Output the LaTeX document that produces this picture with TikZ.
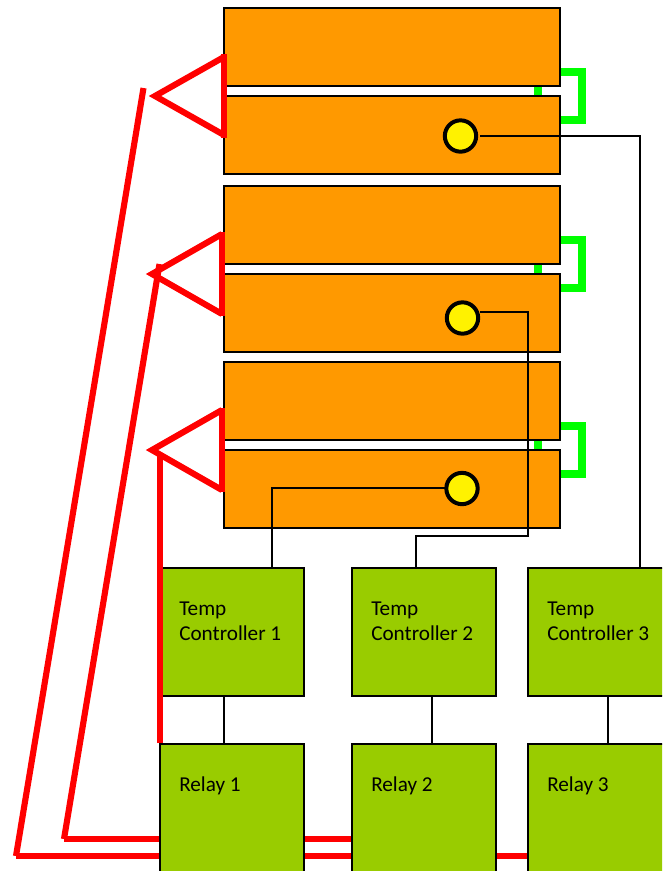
\documentclass[tikz,border=0pt]{standalone}
\usepackage{fontspec}
\setmainfont{Carlito}
\usepackage{tikz}
\usetikzlibrary{positioning}
\definecolor{heater}{HTML}{FF9900}
\definecolor{control}{HTML}{99CC00}
\definecolor{bond}{HTML}{00FF00}
\tikzset{
    plate/.style={rectangle, draw=black, line width=1.5pt, fill=heater, minimum width=252pt, minimum height=58.5pt, inner sep=0pt},
    sensor/.style={circle, draw=black, line width=3pt, fill=yellow, minimum size=23.5pt, inner sep=0pt},
    unit/.style={rectangle, draw=black, line width=1.5pt, fill=control, minimum width=108pt, inner sep=0pt},
    tempbox/.style={unit, minimum height=96pt},
    relaybox/.style={unit, minimum height=108pt},
    boxtext/.style={font=\fontsize{15.9pt}{18.6pt}\selectfont, text=black, align=left, anchor=north west, inner sep=0pt},
    signal/.style={draw=black, line width=1.1pt},
    power/.style={draw=red, line width=4.6pt},
    bondwire/.style={draw=bond, line width=6pt}
}
\begin{document}
\begin{tikzpicture}[x=0.75pt, y=-0.75pt]
    \useasboundingbox (0,0) rectangle (662,871);
    \clip (0,0) rectangle (662,871);
    % Wires behind the relays
    \coordinate (feedA) at (16,856);
    \coordinate (feedB) at (64,839);
    \coordinate (feedC) at (160,743);
    \coordinate (endA) at (528,856);
    \coordinate (endB) at (352,839);
    \coordinate (inA) at (143.5,88);
    \coordinate (inB) at (159.5,264);
    \coordinate (inC) at (160,456);
    \draw [power] (inA) -- (feedA);
    \draw [power] (feedA) -- (endA);
    \draw [power] (inB) -- (feedB);
    \draw [power] (feedB) -- (endB);

    % Heater plates
    \node [plate] (top1) at (392,47) {};
    \node [plate] (low1) at (392,135) {};
    \node [plate] (top2) at (392,225) {};
    \node [plate] (low2) at (392,313) {};
    \node [plate] (top3) at (392,401) {};
    \node [plate] (low3) at (392,489) {};
    \node [sensor] (sense1) at (460.5,136) {};
    \node [sensor] (sense2) at (462.5,318) {};
    \node [sensor] (sense3) at (462,488.5) {};

    % Controllers and relays
    \node [tempbox] (temp1) at (232,632) {};
    \node [tempbox] (temp2) at (424,632) {};
    \node [tempbox] (temp3) at (600,632) {};
    \node [relaybox] (relay1) at (232,816) {};
    \node [relaybox] (relay2) at (424,816) {};
    \node [relaybox] (relay3) at (600,816) {};
    \node [boxtext] (tlabel1) at (179,601.5) {Temp\\Controller 1};
    \node [boxtext] (tlabel2) at (371,601.5) {Temp\\Controller 2};
    \node [boxtext] (tlabel3) at (547,601.5) {Temp\\Controller 3};
    \node [boxtext] (rlabel1) at (179,776.5) {Relay 1};
    \node [boxtext] (rlabel2) at (371,776.5) {Relay 2};
    \node [boxtext] (rlabel3) at (547,776.5) {Relay 3};

    % Signal lines
    \draw [signal] ([xshift=-6pt]temp1.south) -- ([xshift=-6pt]relay1.north);
    \draw [signal] ([xshift=6pt]temp2.south) -- ([xshift=6pt]relay2.north);
    \draw [signal] ([xshift=6pt]temp3.south) -- ([xshift=6pt]relay3.north);
    \coordinate (tap1) at (480,136);
    \coordinate (tap2) at (480,312);
    \coordinate (tap3) at (447,488);
    \coordinate (drop1) at (640,568);
    \coordinate (drop2) at (416,568);
    \coordinate (drop3) at (272,568);
    \draw [signal] (tap1) -| (drop1);
    \draw [signal] (tap2) -- (528,312) -- (528,536) -- (416,536) -- (drop2);
    \draw [signal] (tap3) -| (drop3);

    % Bond straps
    \draw [bondwire] (561,72) -- (582,72) -- (582,120) -- (561,120);
    \draw [bondwire] (561,240) -- (582,240) -- (582,288) -- (561,288);
    \draw [bondwire] (561,426) -- (582,426) -- (582,474) -- (561,474);
    \draw [bondwire] (538,87) -- (538,95);
    \draw [bondwire] (538,265) -- (538,273);
    \draw [bondwire] (538,441) -- (538,449);

    % Red triangles and risers
    \draw [power] (224,57) -- (155,96) -- (224,135);
    \draw [power] (224,54) -- (224,138);
    \draw [power] (222,234) -- (152,274) -- (222,314);
    \draw [power] (222,232) -- (222,316);
    \draw [power] (222,410) -- (152,450) -- (222,490);
    \draw [power] (222,408) -- (222,492);
    \draw [power] (feedC) -- (inC);
\end{tikzpicture}
\end{document}
